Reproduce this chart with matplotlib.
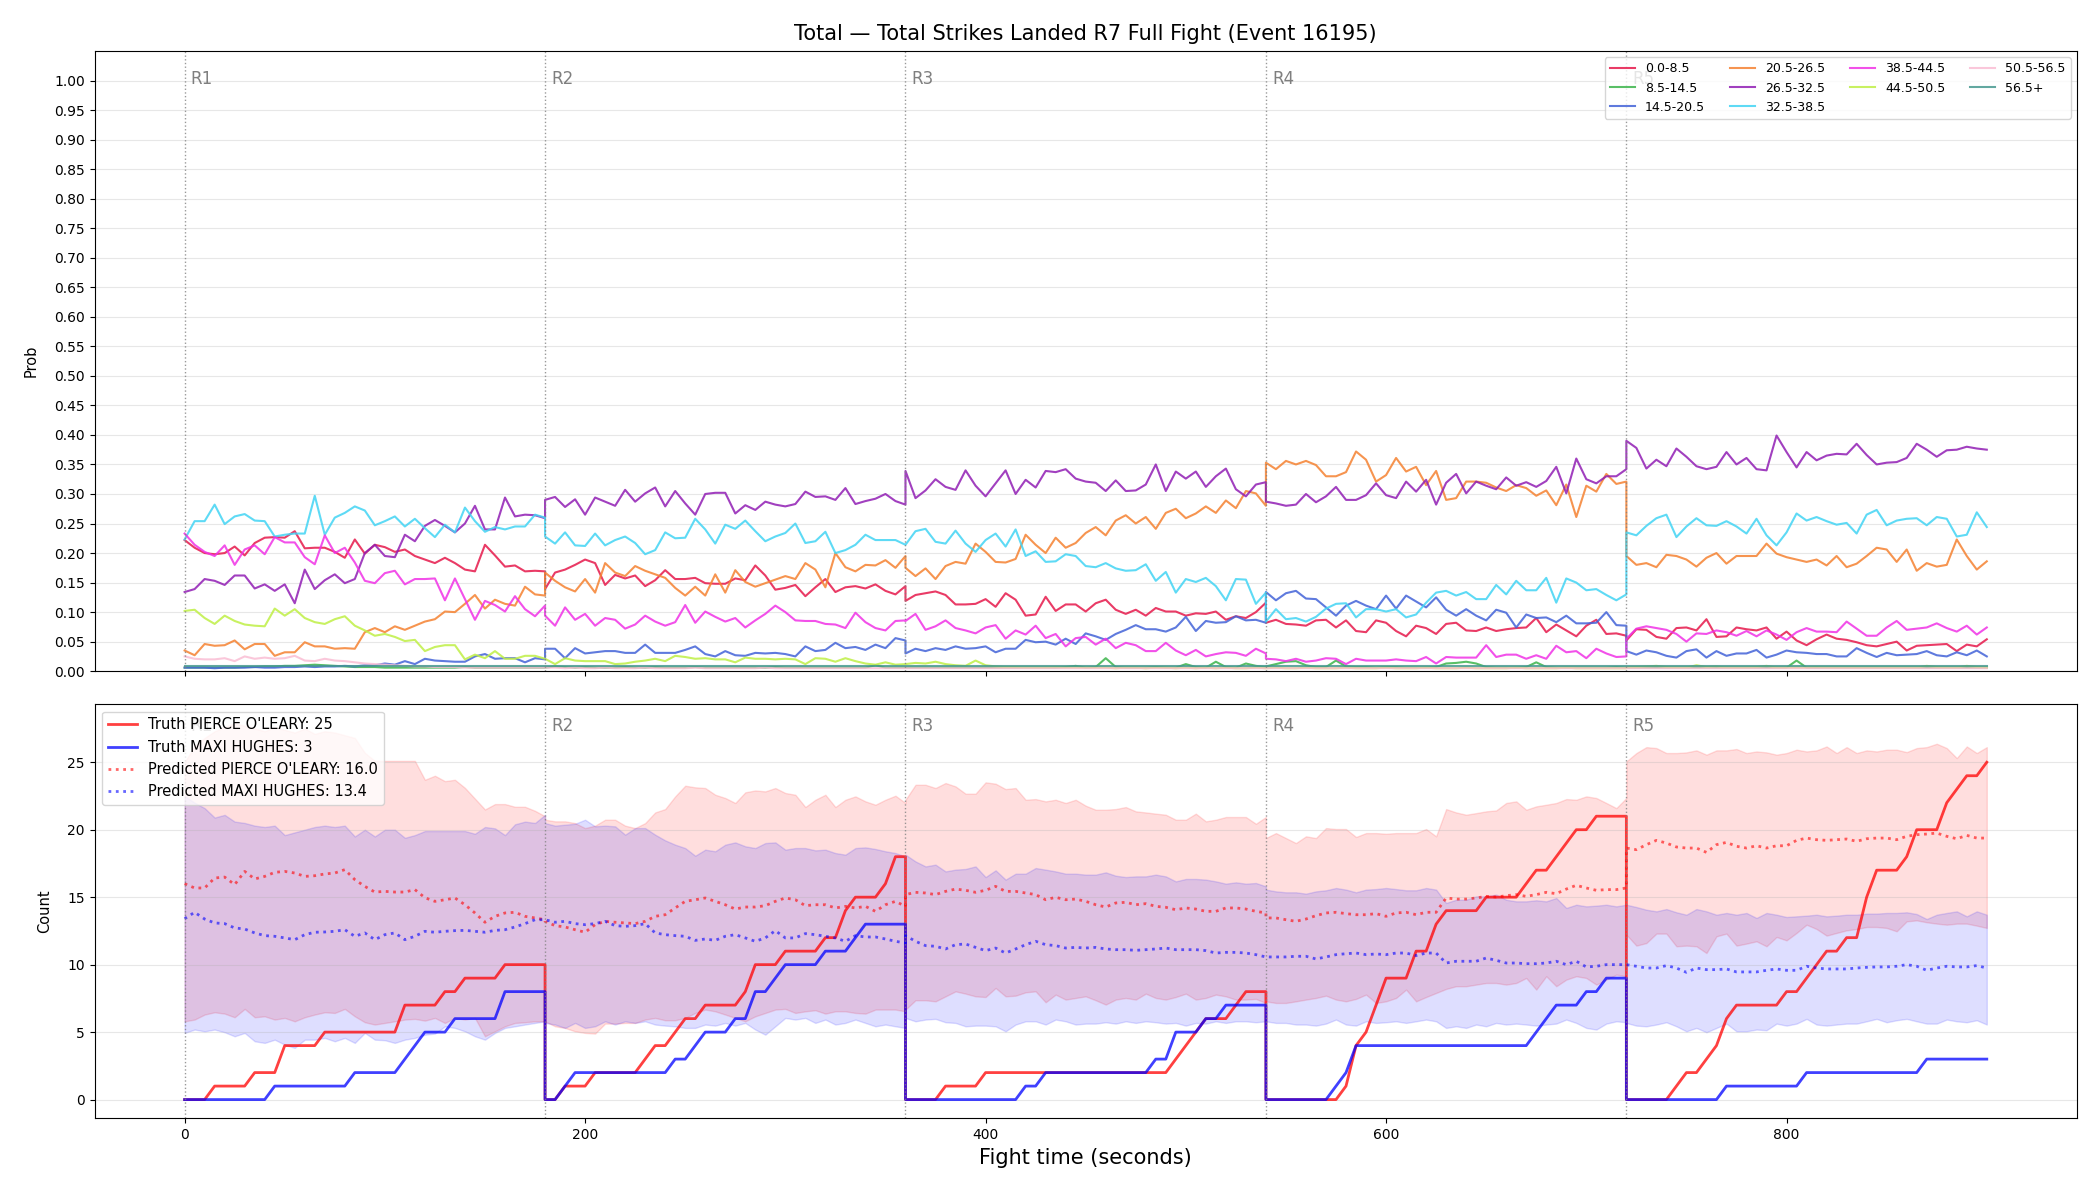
import numpy as np
import matplotlib
matplotlib.use("Agg")
import matplotlib.pyplot as plt

# ---------------- data ----------------
ROUND_LEN = 180
STEP = 5
ROUND_NAMES = ["R1", "R2", "R3", "R4", "R5"]
TITLE = "Total \u2014 Total Strikes Landed R7 Full Fight (Event 16195)"
FIGHTER_A = "PIERCE O'LEARY"
FIGHTER_B = "MAXI HUGHES"

BUCKETS = ["0.0-8.5", "8.5-14.5", "14.5-20.5", "20.5-26.5", "26.5-32.5",
           "32.5-38.5", "38.5-44.5", "44.5-50.5", "50.5-56.5", "56.5+"]

p_0_8 = [
    [0.222,0.209,0.200,0.198,0.200,0.211,0.196,0.217,0.226,0.227,0.226,0.237,0.208,0.209,0.209,0.202,0.192,0.223,0.199,0.214,0.210,0.202,0.206,0.195,0.189,0.183,0.192,0.183,0.172,0.169,0.214,0.196,0.177,0.179,0.169,0.170,0.169],
    [0.139,0.167,0.172,0.180,0.189,0.183,0.146,0.163,0.157,0.162,0.144,0.154,0.171,0.156,0.156,0.158,0.149,0.148,0.148,0.157,0.154,0.179,0.162,0.138,0.141,0.146,0.127,0.142,0.156,0.134,0.142,0.144,0.140,0.147,0.136,0.130,0.144],
    [0.119,0.129,0.132,0.135,0.129,0.113,0.113,0.114,0.122,0.109,0.132,0.121,0.094,0.096,0.126,0.102,0.113,0.113,0.101,0.115,0.121,0.104,0.097,0.104,0.094,0.107,0.101,0.101,0.094,0.098,0.097,0.101,0.087,0.093,0.090,0.100,0.116],
    [0.082,0.087,0.080,0.079,0.077,0.086,0.087,0.074,0.086,0.068,0.066,0.086,0.082,0.068,0.059,0.077,0.073,0.063,0.080,0.082,0.069,0.068,0.074,0.068,0.071,0.073,0.074,0.090,0.066,0.079,0.069,0.059,0.077,0.087,0.063,0.064,0.060],
    [0.052,0.071,0.070,0.058,0.055,0.073,0.074,0.069,0.088,0.058,0.059,0.074,0.071,0.069,0.074,0.055,0.067,0.052,0.044,0.054,0.062,0.055,0.053,0.049,0.044,0.042,0.046,0.050,0.035,0.043,0.044,0.045,0.046,0.034,0.045,0.042,0.054],
]
p_8_14 = [
    [0.006,0.006,0.006,0.006,0.006,0.006,0.007,0.007,0.008,0.008,0.009,0.009,0.010,0.011,0.010,0.009,0.008,0.007,0.007,0.007,0.006,0.006,0.006,0.006,0.006,0.006,0.006,0.006,0.007,0.006,0.006,0.006,0.006,0.006,0.006,0.006,0.006],
    [0.006,0.008,0.007,0.006,0.007,0.006,0.006,0.006,0.007,0.006,0.006,0.007,0.006,0.006,0.006,0.007,0.006,0.006,0.006,0.006,0.006,0.006,0.006,0.007,0.006,0.006,0.006,0.006,0.006,0.006,0.006,0.006,0.006,0.010,0.006,0.006,0.006],
    [0.006,0.006,0.006,0.006,0.006,0.006,0.006,0.006,0.006,0.006,0.006,0.006,0.006,0.006,0.006,0.006,0.007,0.009,0.006,0.007,0.022,0.007,0.006,0.006,0.006,0.007,0.006,0.006,0.012,0.007,0.006,0.016,0.007,0.006,0.013,0.009,0.007],
    [0.008,0.012,0.016,0.017,0.010,0.007,0.007,0.018,0.008,0.007,0.007,0.006,0.007,0.007,0.006,0.006,0.006,0.007,0.013,0.014,0.016,0.013,0.007,0.006,0.006,0.006,0.007,0.015,0.007,0.006,0.006,0.006,0.006,0.006,0.006,0.007,0.006],
    [0.006,0.006,0.006,0.006,0.006,0.006,0.006,0.006,0.006,0.006,0.006,0.006,0.006,0.006,0.006,0.006,0.006,0.018,0.006,0.006,0.006,0.006,0.006,0.006,0.006,0.006,0.006,0.006,0.006,0.006,0.006,0.006,0.006,0.006,0.006,0.006,0.006],
]
p_14_20 = [
    [0.006,0.006,0.006,0.005,0.006,0.006,0.006,0.007,0.006,0.006,0.007,0.007,0.008,0.007,0.008,0.008,0.009,0.008,0.010,0.010,0.013,0.011,0.017,0.012,0.021,0.018,0.017,0.016,0.016,0.025,0.029,0.021,0.022,0.022,0.015,0.022,0.020],
    [0.038,0.038,0.022,0.039,0.030,0.032,0.034,0.034,0.031,0.031,0.045,0.031,0.031,0.031,0.036,0.042,0.029,0.025,0.034,0.027,0.026,0.031,0.030,0.031,0.029,0.025,0.042,0.034,0.036,0.048,0.039,0.041,0.036,0.045,0.039,0.056,0.052],
    [0.030,0.038,0.034,0.039,0.036,0.042,0.038,0.039,0.042,0.032,0.038,0.038,0.053,0.049,0.050,0.045,0.055,0.046,0.064,0.059,0.053,0.063,0.070,0.078,0.071,0.071,0.067,0.074,0.092,0.068,0.085,0.082,0.083,0.093,0.086,0.087,0.082],
    [0.134,0.120,0.132,0.136,0.123,0.122,0.108,0.094,0.111,0.119,0.111,0.105,0.128,0.106,0.128,0.118,0.108,0.125,0.104,0.094,0.105,0.094,0.086,0.104,0.099,0.074,0.096,0.090,0.091,0.083,0.094,0.081,0.081,0.082,0.100,0.078,0.077],
    [0.034,0.028,0.035,0.032,0.026,0.023,0.034,0.037,0.023,0.034,0.026,0.030,0.030,0.036,0.023,0.028,0.035,0.032,0.031,0.029,0.029,0.025,0.025,0.039,0.031,0.024,0.031,0.027,0.028,0.029,0.034,0.027,0.025,0.032,0.027,0.035,0.025],
]
p_20_26 = [
    [0.035,0.027,0.046,0.043,0.044,0.052,0.037,0.046,0.046,0.026,0.032,0.032,0.049,0.042,0.042,0.038,0.039,0.038,0.066,0.073,0.066,0.076,0.070,0.077,0.084,0.088,0.101,0.100,0.114,0.129,0.106,0.121,0.114,0.111,0.143,0.130,0.128],
    [0.167,0.153,0.142,0.135,0.156,0.133,0.183,0.167,0.161,0.178,0.170,0.164,0.158,0.141,0.128,0.143,0.128,0.164,0.133,0.171,0.151,0.143,0.149,0.155,0.161,0.156,0.183,0.172,0.142,0.200,0.176,0.169,0.180,0.179,0.188,0.175,0.195],
    [0.175,0.161,0.174,0.156,0.178,0.185,0.182,0.216,0.202,0.185,0.184,0.190,0.231,0.214,0.200,0.226,0.209,0.217,0.234,0.244,0.230,0.255,0.264,0.250,0.261,0.241,0.268,0.275,0.259,0.267,0.279,0.268,0.289,0.276,0.305,0.301,0.280],
    [0.353,0.342,0.356,0.350,0.356,0.349,0.330,0.330,0.337,0.372,0.358,0.321,0.332,0.361,0.338,0.346,0.315,0.339,0.290,0.293,0.321,0.321,0.319,0.311,0.305,0.315,0.310,0.297,0.306,0.281,0.316,0.261,0.314,0.304,0.334,0.317,0.321],
    [0.195,0.180,0.183,0.176,0.197,0.195,0.189,0.177,0.192,0.200,0.182,0.195,0.195,0.195,0.216,0.199,0.193,0.189,0.185,0.189,0.179,0.195,0.176,0.182,0.195,0.209,0.206,0.185,0.206,0.170,0.183,0.177,0.180,0.223,0.195,0.172,0.186],
]
p_26_32 = [
    [0.134,0.139,0.156,0.153,0.146,0.162,0.162,0.140,0.147,0.136,0.147,0.115,0.172,0.139,0.154,0.164,0.149,0.156,0.200,0.214,0.195,0.193,0.231,0.220,0.246,0.256,0.246,0.235,0.250,0.280,0.240,0.240,0.294,0.262,0.265,0.264,0.259],
    [0.290,0.295,0.278,0.291,0.265,0.294,0.287,0.280,0.307,0.287,0.301,0.311,0.279,0.305,0.284,0.265,0.300,0.302,0.302,0.267,0.281,0.273,0.287,0.282,0.279,0.283,0.304,0.295,0.296,0.290,0.310,0.283,0.288,0.292,0.300,0.288,0.282],
    [0.339,0.293,0.306,0.325,0.312,0.307,0.340,0.314,0.296,0.318,0.340,0.300,0.324,0.311,0.339,0.337,0.342,0.326,0.321,0.319,0.305,0.323,0.305,0.306,0.316,0.350,0.305,0.338,0.326,0.338,0.312,0.330,0.343,0.308,0.296,0.316,0.320],
    [0.287,0.284,0.280,0.282,0.300,0.286,0.296,0.312,0.290,0.290,0.298,0.318,0.298,0.293,0.321,0.304,0.324,0.282,0.319,0.334,0.301,0.321,0.314,0.308,0.328,0.314,0.320,0.312,0.322,0.346,0.301,0.360,0.325,0.318,0.330,0.330,0.342],
    [0.390,0.378,0.343,0.358,0.347,0.377,0.363,0.347,0.342,0.346,0.371,0.350,0.361,0.342,0.340,0.399,0.371,0.345,0.371,0.357,0.365,0.368,0.367,0.385,0.366,0.350,0.353,0.354,0.361,0.385,0.375,0.363,0.374,0.375,0.380,0.377,0.375],
]
p_32_38 = [
    [0.223,0.254,0.254,0.282,0.249,0.262,0.266,0.255,0.254,0.228,0.231,0.233,0.233,0.297,0.231,0.260,0.268,0.279,0.272,0.247,0.254,0.262,0.245,0.258,0.242,0.227,0.248,0.235,0.277,0.254,0.236,0.244,0.240,0.245,0.245,0.265,0.260],
    [0.228,0.216,0.235,0.213,0.212,0.233,0.213,0.222,0.228,0.217,0.198,0.205,0.235,0.225,0.226,0.258,0.240,0.216,0.248,0.241,0.255,0.237,0.220,0.228,0.234,0.250,0.217,0.220,0.236,0.200,0.205,0.214,0.231,0.222,0.222,0.222,0.214],
    [0.214,0.237,0.241,0.219,0.216,0.238,0.216,0.202,0.222,0.233,0.211,0.240,0.195,0.203,0.185,0.186,0.198,0.195,0.178,0.176,0.183,0.174,0.170,0.171,0.181,0.153,0.168,0.133,0.156,0.151,0.158,0.144,0.120,0.156,0.155,0.114,0.133],
    [0.084,0.105,0.088,0.090,0.084,0.092,0.106,0.114,0.115,0.091,0.105,0.105,0.101,0.105,0.091,0.096,0.116,0.133,0.136,0.128,0.134,0.122,0.122,0.146,0.130,0.153,0.137,0.137,0.158,0.116,0.157,0.150,0.137,0.139,0.129,0.120,0.130],
    [0.235,0.230,0.246,0.259,0.265,0.227,0.245,0.259,0.247,0.246,0.254,0.245,0.233,0.258,0.230,0.213,0.235,0.267,0.255,0.261,0.254,0.248,0.251,0.233,0.265,0.273,0.247,0.255,0.258,0.259,0.247,0.261,0.258,0.228,0.231,0.269,0.244],
]
p_38_44 = [
    [0.233,0.214,0.202,0.195,0.213,0.180,0.206,0.213,0.198,0.227,0.218,0.218,0.193,0.181,0.230,0.200,0.209,0.184,0.153,0.149,0.166,0.170,0.147,0.156,0.156,0.157,0.120,0.157,0.122,0.087,0.119,0.112,0.101,0.127,0.105,0.093,0.111],
    [0.094,0.077,0.108,0.087,0.097,0.077,0.090,0.087,0.072,0.079,0.094,0.084,0.077,0.083,0.112,0.082,0.101,0.092,0.084,0.090,0.074,0.086,0.097,0.111,0.100,0.086,0.085,0.085,0.080,0.079,0.073,0.099,0.083,0.073,0.069,0.085,0.086],
    [0.085,0.097,0.070,0.076,0.086,0.073,0.069,0.064,0.074,0.078,0.055,0.069,0.062,0.077,0.056,0.063,0.042,0.056,0.058,0.045,0.055,0.039,0.048,0.044,0.034,0.034,0.048,0.035,0.027,0.036,0.025,0.029,0.032,0.031,0.026,0.038,0.030],
    [0.021,0.020,0.017,0.021,0.016,0.018,0.022,0.021,0.012,0.021,0.018,0.018,0.018,0.020,0.018,0.017,0.024,0.013,0.024,0.023,0.023,0.023,0.044,0.024,0.028,0.028,0.021,0.027,0.021,0.043,0.032,0.034,0.022,0.038,0.030,0.024,0.025],
    [0.055,0.072,0.076,0.073,0.070,0.063,0.050,0.064,0.063,0.069,0.066,0.060,0.068,0.059,0.069,0.062,0.053,0.066,0.073,0.067,0.067,0.066,0.084,0.072,0.060,0.060,0.074,0.085,0.070,0.072,0.074,0.081,0.073,0.067,0.077,0.062,0.074],
]
p_44_50 = [
    [0.102,0.104,0.090,0.080,0.094,0.085,0.079,0.077,0.076,0.106,0.094,0.105,0.090,0.083,0.080,0.088,0.093,0.077,0.069,0.060,0.063,0.058,0.051,0.053,0.034,0.041,0.044,0.044,0.020,0.028,0.022,0.034,0.021,0.021,0.026,0.026,0.021],
    [0.021,0.012,0.022,0.018,0.017,0.017,0.017,0.012,0.013,0.016,0.018,0.021,0.017,0.026,0.024,0.021,0.022,0.020,0.020,0.015,0.023,0.021,0.021,0.020,0.021,0.020,0.012,0.022,0.021,0.016,0.022,0.017,0.013,0.011,0.015,0.011,0.012],
    [0.012,0.014,0.013,0.016,0.012,0.010,0.009,0.018,0.010,0.008,0.007,0.007,0.006,0.006,0.006,0.007,0.006,0.006,0.006,0.006,0.006,0.005,0.006,0.006,0.005,0.006,0.006,0.005,0.006,0.005,0.006,0.005,0.006,0.005,0.005,0.006,0.005],
    [0.005,0.006,0.005,0.005,0.006,0.005,0.005,0.005,0.006,0.005,0.005,0.005,0.006,0.005,0.005,0.005,0.006,0.005,0.005,0.005,0.006,0.005,0.005,0.005,0.005,0.006,0.005,0.005,0.005,0.005,0.006,0.005,0.005,0.005,0.005,0.005,0.005],
    [0.006,0.007,0.008,0.009,0.007,0.006,0.006,0.010,0.007,0.008,0.006,0.006,0.006,0.007,0.009,0.006,0.006,0.006,0.006,0.007,0.006,0.006,0.006,0.006,0.006,0.006,0.006,0.006,0.006,0.006,0.009,0.007,0.006,0.006,0.009,0.007,0.006],
]
p_50_56 = [
    [0.025,0.021,0.020,0.020,0.022,0.017,0.025,0.021,0.023,0.021,0.022,0.026,0.018,0.017,0.021,0.018,0.017,0.015,0.013,0.012,0.011,0.010,0.009,0.008,0.008,0.007,0.007,0.007,0.006,0.006,0.006,0.006,0.006,0.006,0.006,0.006,0.006],
    [0.006,0.006,0.005,0.006,0.005,0.005,0.006,0.005,0.005,0.005,0.006,0.005,0.005,0.005,0.005,0.006,0.005,0.005,0.005,0.005,0.005,0.005,0.006,0.005,0.005,0.005,0.005,0.005,0.005,0.005,0.005,0.005,0.005,0.005,0.005,0.005,0.005],
    [0.005,0.005,0.005,0.005,0.005,0.005,0.005,0.005,0.005,0.005,0.005,0.005,0.005,0.005,0.005,0.005,0.005,0.005,0.005,0.005,0.005,0.005,0.005,0.005,0.005,0.005,0.005,0.005,0.005,0.005,0.005,0.005,0.005,0.005,0.005,0.005,0.005],
    [0.005,0.005,0.005,0.005,0.005,0.005,0.005,0.005,0.005,0.005,0.005,0.005,0.005,0.005,0.005,0.005,0.005,0.005,0.005,0.005,0.005,0.005,0.005,0.005,0.005,0.005,0.005,0.005,0.005,0.005,0.005,0.005,0.005,0.005,0.005,0.005,0.005],
    [0.005,0.005,0.005,0.005,0.005,0.005,0.005,0.005,0.005,0.005,0.005,0.005,0.005,0.005,0.005,0.005,0.005,0.005,0.005,0.005,0.005,0.005,0.005,0.005,0.005,0.005,0.005,0.005,0.005,0.005,0.005,0.005,0.005,0.005,0.005,0.005,0.005],
]
p_56_up = [
    [0.008,0.008,0.008,0.008,0.008,0.008,0.008,0.008,0.008,0.008,0.008,0.008,0.008,0.008,0.008,0.008,0.008,0.008,0.008,0.008,0.008,0.008,0.008,0.008,0.008,0.008,0.008,0.008,0.008,0.008,0.008,0.008,0.008,0.008,0.008,0.008,0.008],
    [0.008,0.008,0.008,0.008,0.008,0.008,0.008,0.008,0.008,0.008,0.008,0.008,0.008,0.008,0.008,0.008,0.008,0.008,0.008,0.008,0.008,0.008,0.008,0.008,0.008,0.008,0.008,0.008,0.008,0.008,0.008,0.008,0.008,0.008,0.008,0.008,0.008],
    [0.008,0.008,0.008,0.008,0.008,0.008,0.008,0.008,0.008,0.008,0.008,0.008,0.008,0.008,0.008,0.008,0.008,0.008,0.008,0.008,0.008,0.008,0.008,0.008,0.008,0.008,0.008,0.008,0.008,0.008,0.008,0.008,0.008,0.008,0.008,0.008,0.008],
    [0.008,0.008,0.008,0.008,0.008,0.008,0.008,0.008,0.008,0.008,0.008,0.008,0.008,0.008,0.008,0.008,0.008,0.008,0.008,0.008,0.008,0.008,0.008,0.008,0.008,0.008,0.008,0.008,0.008,0.008,0.008,0.008,0.008,0.008,0.008,0.008,0.008],
    [0.008,0.008,0.008,0.008,0.008,0.008,0.008,0.008,0.008,0.008,0.008,0.008,0.008,0.008,0.008,0.008,0.008,0.008,0.008,0.008,0.008,0.008,0.008,0.008,0.008,0.008,0.008,0.008,0.008,0.008,0.008,0.008,0.008,0.008,0.008,0.008,0.008],
]

truth_a = [
    [0,0,0,1,1,1,1,2,2,2,4,4,4,4,5,5,5,5,5,5,5,5,7,7,7,7,8,8,9,9,9,9,10,10,10,10,10],
    [0,0,1,1,1,2,2,2,2,2,3,4,4,5,6,6,7,7,7,7,8,10,10,10,11,11,11,11,12,12,14,15,15,15,16,18,18],
    [0,0,0,0,1,1,1,1,2,2,2,2,2,2,2,2,2,2,2,2,2,2,2,2,2,2,2,3,4,5,6,6,6,7,8,8,8],
    [0,0,0,0,0,0,0,0,1,4,5,7,9,9,9,11,11,13,14,14,14,14,15,15,15,15,16,17,17,18,19,20,20,21,21,21,21],
    [0,0,0,0,0,1,2,2,3,4,6,7,7,7,7,7,8,8,9,10,11,11,12,12,15,17,17,17,18,20,20,20,22,23,24,24,25],
]
truth_b = [
    [0,0,0,0,0,0,0,0,0,1,1,1,1,1,1,1,1,2,2,2,2,2,3,4,5,5,5,6,6,6,6,6,8,8,8,8,8],
    [0,0,1,2,2,2,2,2,2,2,2,2,2,3,3,4,5,5,5,6,6,8,8,9,10,10,10,10,11,11,11,12,13,13,13,13,13],
    [0,0,0,0,0,0,0,0,0,0,0,0,1,1,2,2,2,2,2,2,2,2,2,2,2,3,3,5,5,5,6,6,7,7,7,7,7],
    [0,0,0,0,0,0,0,1,2,4,4,4,4,4,4,4,4,4,4,4,4,4,4,4,4,4,4,5,6,7,7,7,8,8,9,9,9],
    [0,0,0,0,0,0,0,0,0,0,1,1,1,1,1,1,1,1,2,2,2,2,2,2,2,2,2,2,2,2,3,3,3,3,3,3,3],
]
pred_a = [
    [16.00,15.68,15.68,16.42,16.49,15.93,16.91,16.35,16.54,16.84,16.91,16.79,16.54,16.59,16.72,16.79,17.04,16.30,15.80,15.38,15.43,15.38,15.38,15.56,14.96,14.69,14.81,14.94,14.44,13.83,13.14,13.58,13.83,13.88,13.58,13.46,13.33],
    [13.21,12.89,12.79,12.59,12.40,12.96,13.21,13.14,13.09,13.04,13.21,13.58,13.70,14.20,14.69,14.81,14.94,14.69,14.44,14.12,14.27,14.27,14.37,14.69,14.94,14.81,14.37,14.44,14.44,14.20,14.32,14.20,14.32,13.95,14.44,14.69,14.32],
    [15.19,15.36,15.31,15.19,15.43,15.60,15.51,15.36,15.51,15.80,15.43,15.43,15.31,15.19,14.81,14.99,14.81,14.86,14.69,14.44,14.27,14.57,14.62,14.44,14.52,14.32,14.25,14.07,14.20,14.12,13.95,13.95,14.20,14.20,14.12,13.95,13.83],
    [13.46,13.46,13.33,13.21,13.38,13.63,13.83,13.88,13.78,13.70,13.70,13.78,13.58,13.83,13.88,13.70,13.88,13.88,14.94,14.86,14.86,14.94,15.06,15.01,15.11,15.19,15.06,15.19,15.36,15.26,15.60,15.88,15.68,15.51,15.56,15.56,15.68],
    [18.64,18.52,18.89,19.21,19.01,18.72,18.64,18.64,18.32,18.89,19.06,18.77,18.64,18.81,18.64,18.81,18.81,19.21,19.38,19.26,19.21,19.26,19.31,19.14,19.33,19.38,19.38,19.26,19.51,19.63,19.68,19.75,19.51,19.33,19.58,19.38,19.38],
]
pred_b = [
    [13.40,13.88,13.38,13.09,13.04,12.72,12.64,12.35,12.15,12.10,11.98,11.85,12.22,12.40,12.42,12.47,12.59,12.10,12.35,11.85,12.22,12.35,11.85,12.10,12.47,12.40,12.47,12.52,12.54,12.47,12.40,12.54,12.59,12.79,13.04,13.33,13.33],
    [13.33,13.14,13.21,13.04,12.96,13.04,13.21,12.89,12.84,12.89,13.04,12.35,12.22,12.15,12.10,11.80,11.90,11.80,12.10,12.22,11.98,11.73,11.98,12.52,11.98,11.98,12.30,12.22,12.10,11.98,11.73,12.15,12.05,12.05,11.90,11.73,11.60],
    [12.15,11.73,11.41,11.36,11.16,11.48,11.53,11.28,11.04,11.23,10.86,11.16,11.48,11.73,11.48,11.41,11.23,11.28,11.23,11.28,11.16,11.11,11.11,11.06,11.11,11.16,11.23,11.11,11.11,11.11,11.04,10.86,10.91,10.91,10.86,10.74,10.57],
    [10.57,10.57,10.57,10.62,10.62,10.42,10.57,10.74,10.81,10.86,10.74,10.79,10.74,10.86,10.86,10.67,10.86,10.86,10.12,10.25,10.25,10.25,10.49,10.32,10.12,10.12,10.07,10.07,10.12,10.25,10.00,10.25,9.83,9.88,10.00,10.00,10.00],
    [10.00,9.88,9.75,9.75,9.93,9.75,9.43,9.75,9.63,9.63,9.68,9.46,9.46,9.46,9.58,9.68,9.58,9.58,9.88,9.75,9.68,9.68,9.68,9.75,9.80,9.83,9.83,9.88,10.00,9.88,9.58,9.75,9.88,9.83,9.83,9.93,9.75],
]
hi_a = [
    [25.0,26.2,26.8,27.3,27.6,27.9,27.7,27.5,27.3,27.6,27.4,27.2,27.5,27.1,27.3,27.2,27.0,26.8,25.7,25.1,25.1,25.1,25.1,25.1,23.7,24.0,23.6,23.7,23.1,22.3,21.5,21.9,21.9,21.7,21.7,21.4,21.0],
    [20.74,20.62,20.62,20.49,20.12,20.30,20.74,20.74,20.30,20.12,20.49,21.28,21.53,22.47,23.26,23.14,23.09,22.59,22.35,21.98,22.77,22.91,22.84,23.09,22.72,22.59,21.68,22.22,22.59,21.68,22.22,22.47,22.10,21.85,22.22,22.52,21.98],
    [22.22,23.33,23.33,23.09,23.46,23.21,22.67,22.67,23.51,23.41,23.01,23.09,22.22,22.27,22.10,22.22,21.98,22.22,21.78,21.48,21.48,21.53,21.68,21.36,21.28,21.19,21.11,20.74,20.74,21.19,20.62,20.74,20.94,20.94,20.94,20.44,20.94],
    [19.38,19.75,19.38,19.01,19.51,19.38,20.12,20.05,20.05,19.46,19.75,19.75,19.70,19.75,19.75,19.75,20.05,19.51,21.53,21.28,21.11,21.23,21.36,21.43,21.98,22.10,21.48,21.73,21.85,21.98,22.27,22.22,22.47,22.35,21.98,21.60,22.35],
    [25.06,25.68,26.12,26.05,25.68,25.68,25.73,25.88,25.56,25.88,25.88,25.98,25.68,25.80,25.73,25.56,25.68,25.93,25.80,25.88,26.17,25.68,26.12,25.68,25.88,25.80,25.93,25.93,25.75,26.05,26.12,26.37,26.05,25.31,26.17,25.68,26.12],
]
lo_a = [
    [5.80,5.93,6.30,6.47,6.37,6.10,6.72,6.10,6.17,5.93,6.05,5.80,6.10,6.30,6.47,6.42,6.72,6.17,5.73,5.56,5.68,5.80,5.93,5.98,5.85,6.05,5.68,6.05,5.93,6.05,4.69,5.06,5.43,5.68,5.73,5.80,5.80],
    [5.80,5.43,5.31,5.06,4.94,4.89,5.63,5.63,5.68,5.68,5.93,6.05,5.88,5.88,6.05,6.42,6.67,6.54,6.30,6.05,5.80,6.17,6.42,6.67,6.72,6.42,6.54,6.62,6.37,6.54,6.54,6.42,6.37,6.67,6.67,6.67,6.54],
    [6.67,7.36,7.36,7.28,7.65,8.02,7.85,7.65,7.60,8.27,7.65,7.70,7.95,8.02,7.21,7.78,7.41,7.53,7.65,7.36,7.04,7.41,7.53,7.41,7.85,7.53,7.41,7.60,7.85,7.41,7.53,7.78,7.65,7.41,7.41,7.46,7.16],
    [7.28,7.16,7.16,7.28,7.41,7.53,7.70,7.41,7.28,7.46,7.78,7.16,7.28,7.53,8.15,7.28,7.60,7.90,8.20,8.40,8.40,8.52,8.64,8.64,8.52,8.64,9.01,8.15,9.14,8.40,8.89,9.14,9.01,8.52,8.89,9.26,9.14],
    [12.22,11.41,11.60,12.30,12.30,11.36,11.41,11.36,10.86,12.10,12.30,11.41,11.56,11.73,11.36,12.05,11.80,12.35,12.96,12.64,12.15,12.35,12.54,12.64,12.79,12.79,12.72,12.47,13.21,13.28,13.14,13.04,12.96,13.04,13.04,12.89,12.72],
]
hi_b = [
    [22.5,22.0,21.6,20.9,21.1,20.6,20.5,20.3,20.2,20.3,19.6,19.8,20.0,20.2,20.3,20.2,20.3,19.5,20.0,19.5,20.0,20.0,19.4,19.6,19.9,19.9,19.9,19.9,19.9,19.7,20.2,20.1,19.6,20.4,20.6,20.5,21.1],
    [20.49,20.30,20.37,20.44,20.74,20.25,20.30,20.25,19.63,20.12,20.12,19.63,19.21,18.89,18.64,18.07,18.52,18.40,18.89,19.06,18.77,18.64,19.01,19.06,18.52,18.64,18.64,18.47,18.52,18.27,18.15,18.64,18.69,18.57,18.40,18.27,18.02],
    [18.15,17.65,17.28,17.41,16.91,17.04,17.09,17.28,16.49,16.99,16.30,16.74,16.74,17.16,17.04,16.91,16.74,16.74,16.67,16.67,16.84,16.59,16.49,16.54,16.54,16.67,16.54,16.17,16.35,16.35,16.30,16.17,16.00,16.10,16.00,16.05,15.80],
    [15.56,15.43,15.36,15.36,15.26,15.43,15.51,15.68,15.56,15.36,15.56,15.60,15.68,15.60,15.51,15.51,15.68,15.56,14.57,14.81,14.81,15.06,15.06,15.19,14.81,14.69,14.69,14.77,14.69,14.94,14.20,14.44,14.32,14.37,14.44,14.32,14.44],
    [14.44,14.27,14.07,13.95,14.12,13.88,13.70,14.12,13.95,13.70,13.83,13.70,13.83,13.46,13.83,13.70,13.53,13.58,13.63,13.70,13.58,13.63,13.70,13.70,13.78,13.78,13.83,13.83,13.88,13.75,13.38,13.70,13.83,13.95,13.58,13.95,13.70],
]
lo_b = [
    [4.94,5.19,5.06,5.19,4.99,4.69,4.94,4.32,4.20,4.44,4.07,3.83,4.44,4.44,4.57,4.32,4.57,4.20,4.94,4.44,4.40,4.20,4.44,4.57,4.81,4.89,5.43,5.31,5.06,4.69,4.44,4.94,5.31,5.43,5.56,5.68,5.80],
    [5.68,5.56,5.31,5.68,5.31,5.43,5.80,5.56,5.80,5.68,5.80,5.56,5.48,5.43,5.31,5.31,5.56,5.48,5.68,5.48,5.68,5.19,4.81,5.43,6.05,5.93,6.05,5.68,5.93,5.56,5.68,5.93,5.68,5.43,5.56,5.43,5.31],
    [6.05,5.80,5.93,5.98,5.73,5.68,5.43,5.48,5.48,5.43,5.06,5.56,5.80,5.80,5.56,5.93,5.80,5.56,5.63,5.63,5.73,5.63,5.80,5.68,5.80,5.73,5.63,5.68,5.48,5.68,5.63,5.80,5.68,5.80,5.80,5.73,5.80],
    [5.80,5.68,5.68,5.56,5.56,5.48,5.63,5.93,5.56,5.48,5.80,5.68,5.73,5.80,5.68,5.80,5.93,5.80,5.31,5.43,5.31,5.56,5.43,5.68,5.56,5.63,5.56,5.48,5.56,5.63,5.93,5.68,5.31,5.19,5.63,5.80,5.73],
    [5.68,5.48,5.43,5.56,5.73,5.43,5.06,5.31,4.99,5.31,5.63,5.06,5.06,5.19,5.14,5.63,5.48,5.63,5.98,5.56,5.48,5.56,5.63,5.63,5.80,5.98,5.73,5.88,5.98,5.80,5.63,5.63,5.93,5.80,5.73,5.88,5.56],
]

# ---------------- styling ----------------
BUCKET_COLORS = ["#e6194b", "#3cb44b", "#4363d8", "#f58231", "#911eb4",
                 "#42d4f4", "#f032e6", "#bfef45", "#fabed4", "#469990"]
SERIES = [p_0_8, p_8_14, p_14_20, p_20_26, p_26_32, p_32_38, p_38_44, p_44_50, p_50_56, p_56_up]


def flat(rounds):
    return np.concatenate([np.asarray(r, dtype=float) for r in rounds])


n_per_round = len(p_0_8[0])
times = np.concatenate([r * ROUND_LEN + np.arange(n_per_round) * STEP for r in range(len(ROUND_NAMES))])
round_starts = [r * ROUND_LEN for r in range(len(ROUND_NAMES))]

fig = plt.figure(figsize=(21, 12), dpi=100)
gs = fig.add_gridspec(2, 1, height_ratios=[620, 414], left=0.045, right=0.989,
                      top=0.9575, bottom=0.068, hspace=0.064)
ax1 = fig.add_subplot(gs[0])
ax2 = fig.add_subplot(gs[1], sharex=ax1)

# --- top panel ---
for name, col, ser in zip(BUCKETS, BUCKET_COLORS, SERIES):
    ax1.plot(times, flat(ser), color=col, lw=1.5, alpha=0.85, label=name)
ax1.set_ylim(0, 1.05)
ax1.set_yticks(np.arange(0, 1.0001, 0.05))
ax1.set_ylabel("Prob", fontsize=10.5, labelpad=11)
ax1.grid(axis="y", alpha=0.3)
ax1.tick_params(labelbottom=False)
ax1.set_title(TITLE, fontsize=15, pad=8)
ax1.legend(loc="upper right", ncol=4, fontsize=9)

# --- bottom panel ---
ta, tb = flat(truth_a), flat(truth_b)
pa, pb = flat(pred_a), flat(pred_b)
ax2.fill_between(times, flat(lo_a), flat(hi_a), color="red", alpha=0.13)
ax2.fill_between(times, flat(lo_b), flat(hi_b), color="blue", alpha=0.13)
ax2.plot(times, ta, color="red", lw=2, alpha=0.75, label=f"Truth {FIGHTER_A}: {int(ta[-1])}")
ax2.plot(times, tb, color="blue", lw=2, alpha=0.75, label=f"Truth {FIGHTER_B}: {int(tb[-1])}")
ax2.plot(times, pa, color="red", lw=2, ls=":", alpha=0.6, label=f"Predicted {FIGHTER_A}: {pa[0]:.1f}")
ax2.plot(times, pb, color="blue", lw=2, ls=":", alpha=0.6, label=f"Predicted {FIGHTER_B}: {pb[0]:.1f}")
ax2.set_ylabel("Count", fontsize=10.5, labelpad=11)
ax2.set_xlabel("Fight time (seconds)", fontsize=15)
ax2.grid(axis="y", alpha=0.3)
leg2 = ax2.legend(loc="upper left", fontsize=10.5)
leg2.set_zorder(10)

for ax in (ax1, ax2):
    for x0, nm in zip(round_starts, ROUND_NAMES):
        ax.axvline(x0, color="gray", ls=":", lw=1, alpha=0.8)
        ax.text(x0 + 3, 0.97, nm, transform=ax.get_xaxis_transform(),
                va="top", ha="left", fontsize=12, color="dimgray", alpha=0.85)

ax2.set_xticks([0, 200, 400, 600, 800])

fig.savefig("out.png", dpi=100)
